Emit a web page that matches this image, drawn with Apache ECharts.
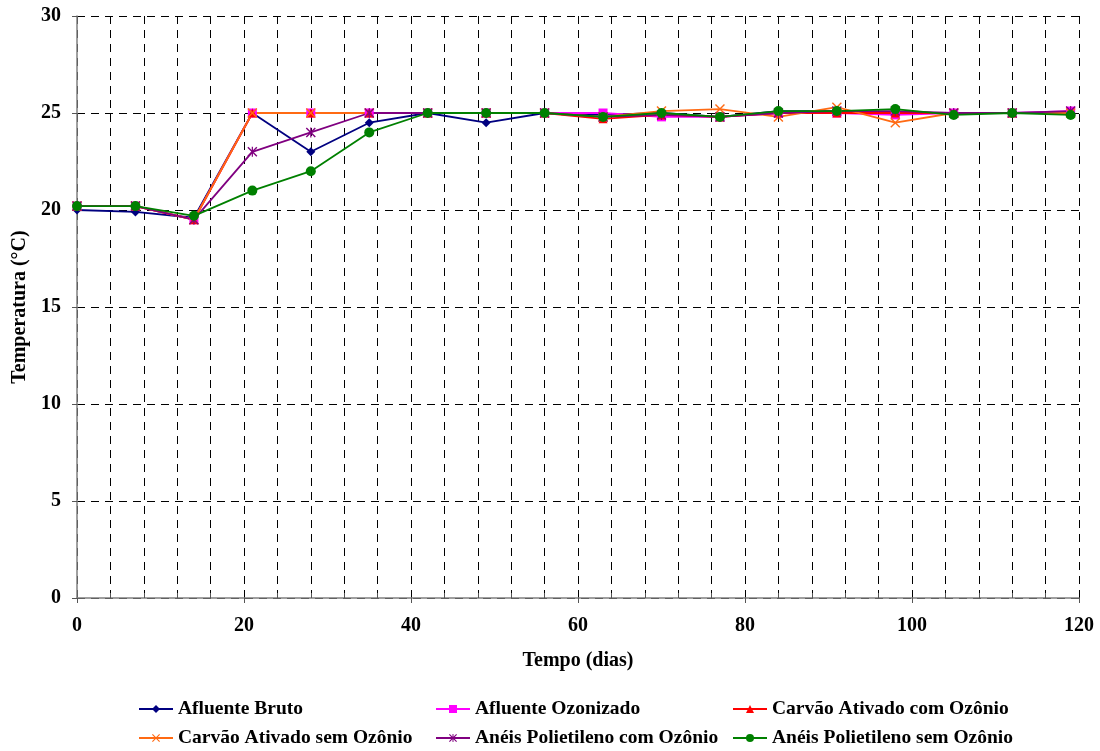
<!DOCTYPE html>
<html>
<head>
    <meta charset="UTF-8">
    <title>Temperatura</title>
    <script src="https://cdn.jsdelivr.net/npm/echarts@6/dist/echarts.min.js"></script>
    <style>
        body { margin: 0; padding: 0; background: #fff; }
        #chart { width: 1100px; height: 751px; }
    </style>
</head>
<body>
<div id="chart"></div>
<script>
    // dias de coleta
    var dias = [0, 7, 14, 21, 28, 35, 42, 49, 56, 63, 70, 77, 84, 91, 98, 105, 112, 119];

    var afluenteBruto     = [20.0, 19.9, 19.6, 25.0, 23.0, 24.5, 25.0, 24.5, 25.0, 24.9, 25.0, 24.8, 25.1, 25.1, 25.0, 25.0, 25.0, 25.0];
    var afluenteOzonizado = [20.2, 20.2, 19.5, 25.0, 25.0, 25.0, 25.0, 25.0, 25.0, 25.0, 24.8, 24.8, 25.0, 25.0, 24.9, 25.0, 25.0, 25.1];
    var carvaoCom         = [20.2, 20.2, 19.5, 25.0, 25.0, 25.0, 25.0, 25.0, 25.0, 24.7, 24.9, 24.8, 25.0, 25.0, 25.0, 25.0, 25.0, 25.0];
    var carvaoSem         = [20.2, 20.2, 19.5, 25.0, 25.0, 25.0, 25.0, 25.0, 25.0, 24.8, 25.1, 25.2, 24.8, 25.3, 24.5, 25.0, 25.0, 25.0];
    var aneisCom          = [20.2, 20.2, 19.5, 23.0, 24.0, 25.0, 25.0, 25.0, 25.0, 24.8, 24.9, 24.8, 25.0, 25.1, 25.1, 25.0, 25.0, 25.1];
    var aneisSem          = [20.2, 20.2, 19.7, 21.0, 22.0, 24.0, 25.0, 25.0, 25.0, 24.8, 25.0, 24.8, 25.1, 25.1, 25.2, 24.9, 25.0, 24.9];

    var nomes = ['Afluente Bruto', 'Afluente Ozonizado', 'Carvão Ativado com Ozônio',
                 'Carvão Ativado sem Ozônio', 'Anéis Polietileno com Ozônio', 'Anéis Polietileno sem Ozônio'];

    var fonte = 'Liberation Serif, Times New Roman, serif';
    var simboloX = 'path://M0,1L1,0L5,4L9,0L10,1L6,5L10,9L9,10L5,6L1,10L0,9L4,5Z';
    var simboloAst = 'path://M0,1L1,0L5,4L9,0L10,1L6,5L10,9L9,10L5,6L1,10L0,9L4,5Z M4.4,0L5.6,0L5.6,10L4.4,10Z';

    function pares(vals) {
        var out = [];
        for (var i = 0; i < dias.length; i++) {
            out.push([dias[i], vals[i]]);
        }
        return out;
    }

    function serie(nome, vals, cor, simbolo, tam) {
        return {
            name: nome,
            type: 'line',
            data: pares(vals),
            symbol: simbolo,
            symbolSize: tam,
            showAllSymbol: true,
            animation: false,
            lineStyle: { color: cor, width: 1.8 },
            itemStyle: { color: cor }
        };
    }

    // posicoes da legenda (3 colunas, 2 linhas)
    var legX = [138, 435, 732];
    var legY = [699, 728];
    var legendas = [];
    for (var k = 0; k < nomes.length; k++) {
        legendas.push({
            data: [nomes[k]],
            left: legX[k % 3],
            top: legY[Math.floor(k / 3)],
            padding: 0,
            itemWidth: 34,
            itemHeight: 10,
            selectedMode: false,
            textStyle: { fontFamily: fonte, fontWeight: 'bold', fontSize: 19.5, color: '#000' }
        });
    }

    var grade = { color: '#000', type: [8, 6], width: 1 };

    var chart = echarts.init(document.getElementById('chart'), null, {renderer: 'canvas'});
    var option = {
        backgroundColor: '#fff',
        animation: false,
        grid: { left: 77, right: 21, top: 16, bottom: 153, containLabel: false },
        legend: legendas,
        xAxis: {
            type: 'value',
            min: 0,
            max: 120,
            interval: 20,
            name: 'Tempo (dias)',
            nameLocation: 'middle',
            nameGap: 53,
            nameTextStyle: { fontFamily: fonte, fontWeight: 'bold', fontSize: 20, color: '#000' },
            axisLine: { lineStyle: { color: '#808080', width: 1.5 } },
            axisTick: { show: true, length: 5, lineStyle: { color: '#555' } },
            minorTick: { show: true, splitNumber: 5, length: -5, lineStyle: { color: '#555' } },
            axisLabel: { fontFamily: fonte, fontWeight: 'bold', fontSize: 20, color: '#000', margin: 18 },
            splitLine: { show: true, lineStyle: grade },
            minorSplitLine: { show: true, lineStyle: grade }
        },
        yAxis: {
            type: 'value',
            min: 0,
            max: 30,
            interval: 5,
            name: 'Temperatura (°C)',
            nameLocation: 'middle',
            nameGap: 47,
            nameTextStyle: { fontFamily: fonte, fontWeight: 'bold', fontSize: 20, color: '#000' },
            axisLine: { show: true, lineStyle: { color: '#808080', width: 1.5 } },
            axisTick: { show: true, length: 5, lineStyle: { color: '#555' } },
            axisLabel: { fontFamily: fonte, fontWeight: 'bold', fontSize: 20, color: '#000', margin: 16 },
            splitLine: { show: true, lineStyle: grade }
        },
        series: [
            serie(nomes[0], afluenteBruto, '#000080', 'diamond', 9),
            serie(nomes[1], afluenteOzonizado, '#FF00FF', 'rect', 9),
            serie(nomes[2], carvaoCom, '#FF0000', 'triangle', 9),
            serie(nomes[3], carvaoSem, '#FF6A13', simboloX, 10),
            serie(nomes[4], aneisCom, '#800080', simboloAst, 10),
            serie(nomes[5], aneisSem, '#008000', 'circle', 10)
        ]
    };
    chart.setOption(option);
</script>
</body>
</html>
